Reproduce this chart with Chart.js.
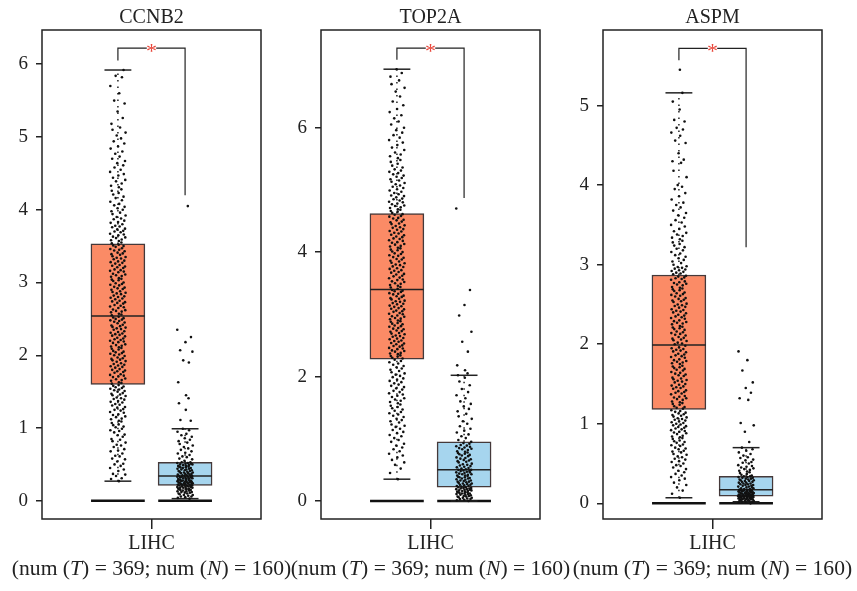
<!DOCTYPE html>
<html>
<head>
<meta charset="utf-8">
<script src="https://cdn.jsdelivr.net/npm/chart.js@4.4.1/dist/chart.umd.min.js"></script>
<style>
  html, body { margin: 0; background: #fff; }
  #wrap { position: relative; width: 857px; height: 591px; }
  #wrap canvas { position: absolute; left: 0; top: 0; }
</style>
</head>
<body>
<div id="wrap">
  <canvas id="c0" width="857" height="591"></canvas>
  <canvas id="c1" width="857" height="591"></canvas>
  <canvas id="c2" width="857" height="591"></canvas>
</div>
<script>
// genes, one panel each
const GENES = ['CCNB2', 'TOP2A', 'ASPM'];
const CANCER = 'LIHC';
const NUM_T = 369, NUM_N = 160;

// box stats: [lower whisker, Q1, median, Q3, upper whisker]
const CCNB2_BOX_T = [0.27, 1.60, 2.54, 3.53, 5.92];
const CCNB2_BOX_N = [0.03, 0.21, 0.34, 0.53, 0.99];
const TOP2A_BOX_T = [0.35, 2.28, 3.40, 4.62, 6.94];
const TOP2A_BOX_N = [0.00, 0.22, 0.50, 0.95, 2.02];
const ASPM_BOX_T  = [0.07, 1.18, 1.99, 2.87, 5.16];
const ASPM_BOX_N  = [0.02, 0.09, 0.17, 0.34, 0.70];

// significance bracket: [left end, top, right end]
const CCNB2_SIG = [6.05, 6.22, 4.20];
const TOP2A_SIG = [7.09, 7.28, 4.87];
const ASPM_SIG  = [5.57, 5.72, 3.22];

// y tick labels
const CCNB2_TICKS = [0, 1, 2, 3, 4, 5, 6];
const TOP2A_TICKS = [0, 2, 4, 6];
const ASPM_TICKS  = [0, 1, 2, 3, 4, 5];

// sample values (sorted)
const CCNB2_T = [0.27,0.30,0.31,0.34,0.36,0.37,0.41,0.43,0.45,0.48,0.50,0.51,0.54,0.57,0.58,0.61,0.62,0.65,0.68,0.69,0.71,0.74,0.76,0.77,0.80,0.82,0.84,0.85,0.88,0.90,0.91,0.94,0.96,0.97,0.99,1.01,1.02,1.04,1.05,1.07,1.09,1.10,1.12,1.13,1.15,1.16,1.18,1.19,1.21,1.22,1.24,1.25,1.26,1.28,1.29,1.31,1.32,1.33,1.35,1.36,1.37,1.39,1.40,1.41,1.42,1.44,1.45,1.46,1.47,1.48,1.50,1.51,1.52,1.53,1.54,1.55,1.56,1.57,1.58,1.59,
  1.61,1.62,1.63,1.65,1.66,1.67,1.68,1.70,1.71,1.72,1.73,1.74,1.76,1.77,1.78,1.79,1.80,1.81,1.83,1.84,1.85,1.86,1.87,1.88,1.89,1.91,1.92,1.93,1.94,1.95,1.96,1.97,1.99,2.00,2.01,2.02,2.03,2.04,2.05,2.06,2.08,2.09,2.10,2.11,2.12,2.13,2.14,2.15,2.17,2.18,2.19,2.20,2.21,2.22,2.23,2.24,2.26,2.27,2.28,2.29,2.30,2.31,2.32,2.33,2.35,2.36,2.37,2.38,2.39,2.40,2.41,2.42,2.44,2.45,2.46,2.47,2.48,2.49,2.50,2.51,2.52,2.53,
  2.55,2.56,2.57,2.59,2.60,2.61,2.62,2.63,2.65,2.66,2.67,2.68,2.69,2.71,2.72,2.73,2.74,2.75,2.77,2.78,2.79,2.80,2.81,2.82,2.84,2.85,2.86,2.87,2.88,2.90,2.91,2.92,2.93,2.94,2.96,2.97,2.98,2.99,3.00,3.02,3.03,3.04,3.05,3.06,3.08,3.09,3.10,3.11,3.12,3.14,3.15,3.16,3.17,3.18,3.20,3.21,3.22,3.23,3.24,3.26,3.27,3.28,3.29,3.30,3.32,3.33,3.34,3.35,3.36,3.38,3.39,3.40,3.41,3.43,3.44,3.45,3.46,3.47,3.49,3.50,3.51,3.52,
  3.54,3.55,3.57,3.58,3.59,3.61,3.62,3.63,3.65,3.66,3.67,3.69,3.70,3.71,3.73,3.74,3.76,3.77,3.78,3.80,3.82,3.83,3.85,3.87,3.88,3.90,3.92,3.94,3.96,3.98,4.00,4.02,4.04,4.06,4.08,4.11,4.13,4.16,4.18,4.21,4.23,4.26,4.28,4.31,4.33,4.36,4.39,4.41,4.44,4.47,4.49,4.52,4.55,4.58,4.61,4.64,4.67,4.70,4.73,4.77,4.80,4.84,4.87,4.91,4.94,4.98,5.02,5.06,5.10,5.13,5.18,5.26,5.35,5.46,5.50,5.60,5.70,5.82,5.84,5.92];
const CCNB2_N = [0.03,0.04,0.05,0.06,0.06,0.07,0.08,0.08,0.09,0.10,0.10,0.11,0.11,0.12,0.12,0.13,0.13,0.14,0.14,0.15,0.15,0.16,0.16,0.16,0.17,0.17,0.17,0.18,0.18,0.18,0.19,0.19,0.19,0.20,0.20,0.20,0.21,0.21,0.21,0.21,
  0.22,0.22,0.22,0.23,0.23,0.23,0.24,0.24,0.24,0.25,0.25,0.25,0.26,0.26,0.26,0.27,0.27,0.27,0.28,0.28,0.28,0.29,0.29,0.29,0.30,0.30,0.30,0.31,0.31,0.31,0.32,0.32,0.32,0.33,0.33,0.33,0.34,0.34,0.34,0.34,
  0.35,0.35,0.36,0.36,0.37,0.37,0.38,0.38,0.39,0.39,0.40,0.40,0.41,0.41,0.42,0.42,0.43,0.43,0.44,0.44,0.45,0.45,0.46,0.46,0.47,0.47,0.48,0.48,0.49,0.49,0.50,0.50,0.51,0.51,0.52,0.52,0.53,0.53,
  0.55,0.57,0.58,0.60,0.61,0.63,0.65,0.66,0.68,0.70,0.72,0.74,0.76,0.78,0.80,0.82,0.84,0.86,0.88,0.90,0.92,0.95,0.97,0.99,
  1.10,1.11,1.25,1.34,1.41,1.45,1.63,1.90,1.93,2.05,2.07,2.18,2.25,2.35,4.05];
const TOP2A_T = [0.35,0.45,0.52,0.58,0.62,0.66,0.70,0.73,0.76,0.80,0.83,0.86,0.89,0.92,0.95,0.98,1.01,1.04,1.06,1.09,1.11,1.14,1.16,1.19,1.21,1.23,1.26,1.28,1.30,1.32,1.35,1.37,1.39,1.41,1.43,1.45,1.47,1.49,1.51,1.53,1.55,1.57,1.59,1.61,1.63,1.65,1.67,1.69,1.71,1.73,1.75,1.77,1.79,1.81,1.83,1.85,1.87,1.89,1.91,1.93,1.95,1.97,1.99,2.01,2.03,2.05,2.07,2.09,2.11,2.13,2.15,2.17,2.19,2.21,2.23,2.25,2.27,
  2.29,2.30,2.32,2.33,2.34,2.36,2.37,2.38,2.40,2.41,2.42,2.44,2.45,2.46,2.48,2.49,2.50,2.52,2.53,2.54,2.56,2.57,2.58,2.60,2.61,2.62,2.64,2.65,2.66,2.68,2.69,2.70,2.72,2.73,2.74,2.76,2.77,2.78,2.80,2.81,2.82,2.84,2.85,2.86,2.88,2.89,2.90,2.92,2.93,2.94,2.96,2.97,2.98,3.00,3.01,3.02,3.04,3.05,3.06,3.08,3.09,3.10,3.12,3.13,3.14,3.16,3.17,3.18,3.20,3.21,3.22,3.24,3.25,3.26,3.28,3.29,3.30,3.32,3.33,3.34,3.36,3.37,3.38,3.39,
  3.41,3.43,3.44,3.46,3.47,3.49,3.50,3.52,3.53,3.55,3.56,3.58,3.59,3.61,3.62,3.64,3.65,3.67,3.68,3.70,3.71,3.73,3.74,3.76,3.77,3.79,3.80,3.82,3.83,3.85,3.86,3.88,3.89,3.91,3.92,3.94,3.95,3.97,3.98,4.00,4.01,4.03,4.04,4.06,4.07,4.09,4.10,4.12,4.13,4.15,4.16,4.18,4.19,4.21,4.22,4.24,4.25,4.27,4.28,4.30,4.31,4.33,4.34,4.36,4.37,4.39,4.40,4.42,4.43,4.45,4.46,4.48,4.49,4.51,4.52,4.54,4.55,4.57,4.58,4.60,4.61,
  4.63,4.65,4.66,4.68,4.69,4.71,4.72,4.74,4.75,4.77,4.78,4.80,4.81,4.83,4.85,4.86,4.88,4.90,4.91,4.93,4.95,4.97,4.99,5.01,5.03,5.05,5.07,5.09,5.11,5.13,5.15,5.17,5.19,5.21,5.23,5.25,5.27,5.29,5.31,5.33,5.36,5.39,5.42,5.45,5.48,5.51,5.54,5.57,5.60,5.64,5.68,5.72,5.76,5.80,5.84,5.88,5.92,5.96,6.00,6.05,6.10,6.15,6.20,6.25,6.30,6.36,6.42,6.50,6.58,6.64,6.70,6.76,6.82,6.88,6.94];
const TOP2A_N = [0.00,0.01,0.02,0.03,0.03,0.04,0.05,0.05,0.06,0.07,0.07,0.08,0.08,0.09,0.10,0.10,0.11,0.11,0.12,0.12,0.13,0.13,0.14,0.14,0.15,0.15,0.16,0.16,0.17,0.17,0.18,0.18,0.19,0.19,0.20,0.20,0.21,0.21,0.22,0.22,
  0.23,0.24,0.24,0.25,0.26,0.26,0.27,0.28,0.28,0.29,0.30,0.31,0.31,0.32,0.33,0.33,0.34,0.35,0.36,0.36,0.37,0.38,0.38,0.39,0.40,0.41,0.41,0.42,0.43,0.43,0.44,0.45,0.46,0.46,0.47,0.48,0.48,0.49,0.50,0.50,
  0.51,0.52,0.53,0.54,0.55,0.56,0.57,0.58,0.59,0.60,0.62,0.63,0.64,0.65,0.66,0.67,0.68,0.69,0.70,0.72,0.73,0.74,0.75,0.76,0.77,0.78,0.79,0.80,0.82,0.83,0.84,0.85,0.86,0.87,0.88,0.89,0.90,0.92,0.93,0.95,
  0.98,1.01,1.04,1.07,1.10,1.13,1.16,1.20,1.24,1.28,1.32,1.36,1.40,1.44,1.48,1.52,1.56,1.60,1.65,1.70,1.75,1.80,1.86,1.92,1.98,2.02,
  2.05,2.10,2.18,2.40,2.56,2.72,2.98,3.15,3.39,4.70];
const ASPM_T = [0.07,0.12,0.16,0.20,0.23,0.26,0.29,0.31,0.33,0.35,0.37,0.39,0.41,0.43,0.45,0.47,0.48,0.50,0.52,0.53,0.55,0.56,0.58,0.59,0.61,0.62,0.64,0.65,0.66,0.68,0.69,0.70,0.72,0.73,0.74,0.76,0.77,0.78,0.79,0.81,0.82,0.83,0.84,0.85,0.87,0.88,0.89,0.90,0.91,0.92,0.93,0.94,0.95,0.96,0.97,0.98,0.99,1.00,1.01,1.02,1.03,1.04,1.05,1.06,1.07,1.08,1.09,1.10,1.11,1.12,1.13,1.14,1.15,1.16,1.17,
  1.19,1.20,1.21,1.22,1.24,1.25,1.26,1.27,1.28,1.30,1.31,1.32,1.33,1.34,1.35,1.37,1.38,1.39,1.40,1.41,1.42,1.44,1.45,1.46,1.47,1.48,1.49,1.50,1.52,1.53,1.54,1.55,1.56,1.57,1.58,1.60,1.61,1.62,1.63,1.64,1.65,1.67,1.68,1.69,1.70,1.71,1.72,1.73,1.75,1.76,1.77,1.78,1.79,1.80,1.81,1.83,1.84,1.85,1.86,1.87,1.88,1.90,1.91,1.92,1.93,1.94,1.95,1.96,1.98,
  2.00,2.01,2.02,2.04,2.05,2.06,2.07,2.08,2.09,2.11,2.12,2.13,2.14,2.15,2.16,2.18,2.19,2.20,2.21,2.22,2.23,2.25,2.26,2.27,2.28,2.29,2.30,2.32,2.33,2.34,2.35,2.36,2.37,2.39,2.40,2.41,2.42,2.43,2.44,2.46,2.47,2.48,2.49,2.50,2.51,2.53,2.54,2.55,2.56,2.57,2.58,2.60,2.61,2.62,2.63,2.64,2.65,2.67,2.68,2.69,2.70,2.71,2.72,2.74,2.75,2.76,2.77,2.78,2.79,2.81,2.82,2.83,2.84,2.85,2.86,
  2.88,2.89,2.90,2.91,2.92,2.93,2.94,2.95,2.96,2.97,2.98,3.00,3.02,3.04,3.06,3.08,3.10,3.12,3.14,3.16,3.18,3.20,3.22,3.24,3.26,3.28,3.30,3.32,3.34,3.36,3.38,3.40,3.42,3.45,3.48,3.50,3.53,3.56,3.59,3.62,3.65,3.68,3.72,3.75,3.78,3.82,3.86,3.90,3.95,3.98,4.00,4.10,4.18,4.28,4.30,4.32,4.40,4.53,4.56,4.62,4.66,4.70,4.72,4.80,4.82,4.95,5.05,5.16,5.45];
const ASPM_N = [0.00,0.01,0.01,0.02,0.02,0.03,0.03,0.03,0.04,0.04,0.04,0.05,0.05,0.05,0.05,0.06,0.06,0.06,0.06,0.07,0.07,0.07,0.07,0.07,0.08,0.08,0.08,0.08,0.08,0.08,0.09,0.09,0.09,0.09,0.09,
  0.10,0.10,0.10,0.10,0.11,0.11,0.11,0.11,0.12,0.12,0.12,0.12,0.13,0.13,0.13,0.13,0.14,0.14,0.14,0.14,0.15,0.15,0.15,0.15,0.16,0.16,0.16,0.16,0.17,0.17,0.17,0.17,
  0.18,0.18,0.19,0.19,0.20,0.20,0.21,0.21,0.22,0.22,0.23,0.23,0.24,0.24,0.25,0.25,0.26,0.26,0.27,0.27,0.28,0.28,0.29,0.29,0.30,0.30,0.31,0.31,0.32,0.32,0.33,0.33,0.34,0.34,
  0.35,0.36,0.37,0.38,0.39,0.40,0.41,0.42,0.43,0.44,0.45,0.46,0.47,0.48,0.50,0.51,0.52,0.54,0.55,0.57,0.58,0.60,0.62,0.64,0.66,0.68,0.70,
  0.77,0.90,0.98,1.01,1.30,1.32,1.39,1.45,1.52,1.67,1.80,1.91];

// fixed horizontal spread pattern for the dots (-1..1)
const JITTER = [0.12,-0.85,0.47,-0.23,0.91,-0.61,0.05,0.73,-0.97,0.34,-0.42,0.66,-0.08,0.88,-0.71,0.21,-0.33,0.55,-0.90,0.02,0.79,-0.52,0.39,-0.15,0.95,-0.67,0.27,-0.80,0.60,-0.04,0.83,-0.46,0.16,-0.94,0.50,-0.28,0.70,-0.58,0.09,-0.76,0.43];

const SERIF = "'Liberation Serif', 'DejaVu Serif', serif";
const TUMOR_COL = '#FB8B66';
const NORMAL_COL = '#A6D5EE';
const INK = '#222';

const panels = [
  { box: [CCNB2_BOX_T, CCNB2_BOX_N], pts: [CCNB2_T, CCNB2_N], sig: CCNB2_SIG, ticks: CCNB2_TICKS, ymin: -0.25, ymax: 6.47, left: 42, right: 261 },
  { box: [TOP2A_BOX_T, TOP2A_BOX_N], pts: [TOP2A_T, TOP2A_N], sig: TOP2A_SIG, ticks: TOP2A_TICKS, ymin: -0.29, ymax: 7.57, left: 321, right: 540 },
  { box: [ASPM_BOX_T, ASPM_BOX_N],   pts: [ASPM_T, ASPM_N],   sig: ASPM_SIG,  ticks: ASPM_TICKS,  ymin: -0.197, ymax: 5.95, left: 603, right: 822 }
];

function seg(pts, opts) {
  return Object.assign({
    type: 'line', data: pts.map(p => ({ x: p[0], y: p[1] })),
    borderColor: INK, borderWidth: 1.5, pointRadius: 0, fill: false,
    tension: 0, order: 2
  }, opts || {});
}

const panelText = {
  id: 'panelText',
  afterDraw(chart) {
    const p = chart.options.plugins.panelText;
    const { ctx, chartArea: a, scales: { x, y } } = chart;
    const cx = x.getPixelForValue(1.5);
    ctx.save();
    // frame
    ctx.strokeStyle = INK; ctx.lineWidth = 1.5;
    ctx.strokeRect(a.left, a.top, a.right - a.left, a.bottom - a.top);
    // title
    ctx.fillStyle = INK; ctx.textAlign = 'center'; ctx.textBaseline = 'alphabetic';
    ctx.font = '20px ' + SERIF;
    ctx.fillText(p.gene, cx, 23);
    // red star of the bracket
    ctx.fillStyle = '#E8473B';
    ctx.font = '22px ' + SERIF;
    ctx.fillText('*', cx, y.getPixelForValue(p.sig[1]) + 10);
    // sample sizes line with italic T and N
    const parts = [['(num (', false], ['T', true], [') = ' + NUM_T + '; num (', false], ['N', true], [') = ' + NUM_N + ')', false]];
    const fontOf = it => (it ? 'italic ' : '') + '21.6px ' + SERIF;
    let w = 0;
    parts.forEach(([t, it]) => { ctx.font = fontOf(it); w += ctx.measureText(t).width; });
    let xx = cx - w / 2;
    ctx.fillStyle = INK; ctx.textAlign = 'left';
    parts.forEach(([t, it]) => { ctx.font = fontOf(it); ctx.fillText(t, xx, 575); xx += ctx.measureText(t).width; });
    ctx.restore();
  }
};

panels.forEach((p, k) => {
  const datasets = [];
  const centers = [1, 2];
  // boxes
  datasets.push({
    type: 'bar',
    data: centers.map((c, g) => ({ x: c, y: [p.box[g][1], p.box[g][3]] })),
    backgroundColor: [TUMOR_COL, NORMAL_COL],
    borderColor: '#45393a', borderWidth: 1.5, borderSkipped: false,
    barThickness: 54, order: 3
  });
  centers.forEach((c, g) => {
    const b = p.box[g];
    datasets.push(seg([[c - 0.4, b[2]], [c + 0.4, b[2]]]));
    datasets.push(seg([[c - 0.2, b[4]], [c + 0.2, b[4]]]));
    datasets.push(seg([[c - 0.2, b[0]], [c + 0.2, b[0]]]));
    datasets.push(seg([[c, b[3]], [c, b[4]]], { borderDash: [1.5, 5] }));
    datasets.push(seg([[c, b[0]], [c, b[1]]], { borderDash: [1.5, 5] }));
    datasets.push(seg([[c - 0.4, 0], [c + 0.4, 0]], { borderWidth: 2.5, borderColor: '#111' }));
    // dots
    datasets.push({
      type: 'scatter',
      data: p.pts[g].map((v, i) => ({ x: c + JITTER[(i + g * 17) % JITTER.length] * 0.12, y: v })),
      pointRadius: 1.3, pointBackgroundColor: '#111', pointBorderWidth: 0, order: 1
    });
  });
  // significance bracket
  datasets.push(seg([[1, p.sig[0]], [1, p.sig[1]], [1.43, p.sig[1]]], { borderWidth: 1.2 }));
  datasets.push(seg([[1.57, p.sig[1]], [2, p.sig[1]], [2, p.sig[2]]], { borderWidth: 1.2 }));

  new Chart(document.getElementById('c' + k), {
    type: 'scatter',
    data: { datasets },
    plugins: [panelText],
    options: {
      responsive: false, animation: false,
      layout: { padding: { left: p.left - 40, right: 857 - p.right, top: 30, bottom: 0 } },
      plugins: {
        legend: { display: false }, tooltip: { enabled: false },
        panelText: { gene: GENES[k], sig: p.sig }
      },
      scales: {
        x: {
          type: 'linear', min: -0.13, max: 3.13, offset: false,
          afterFit: s => { s.height = 72; },
          afterBuildTicks: s => { s.ticks = [{ value: 1.5 }]; },
          ticks: { callback: () => CANCER, font: { family: SERIF, size: 20 }, color: INK, padding: 3, maxRotation: 0, autoSkip: false },
          grid: { offset: false, drawOnChartArea: false, drawTicks: true, tickLength: 10, color: INK, lineWidth: 1.5 },
          border: { display: false }
        },
        y: {
          type: 'linear', min: p.ymin, max: p.ymax,
          afterFit: s => { s.width = 40; },
          afterBuildTicks: s => { s.ticks = p.ticks.map(v => ({ value: v })); },
          ticks: { callback: v => String(v), font: { family: SERIF, size: 19 }, color: INK, padding: 8 },
          grid: { offset: false, drawOnChartArea: false, drawTicks: true, tickLength: 6, color: INK, lineWidth: 1.5 },
          border: { display: false }
        }
      }
    }
  });
});
</script>
</body>
</html>
